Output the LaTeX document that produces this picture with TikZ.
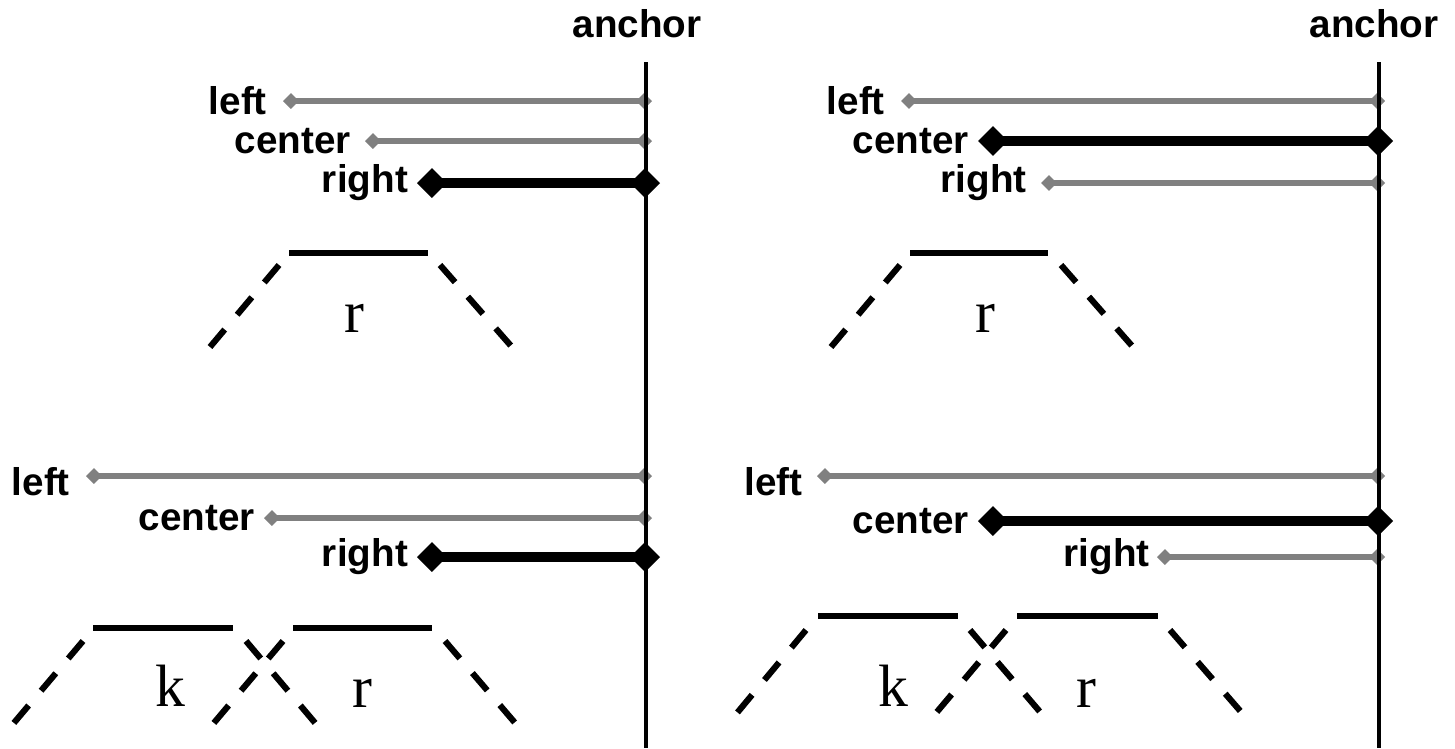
\documentclass[tikz,border=0pt]{standalone}
\usepackage{fontspec}
\setmainfont{Liberation Serif}
\newfontfamily\lblfont{Liberation Sans}
\usetikzlibrary{arrows.meta,positioning}
\definecolor{rowgray}{RGB}{128,128,128}
\tikzset{
  anchorline/.style={line width=2.4pt},
  grayrow/.style={line width=3pt,rowgray,{Diamond[length=9pt,width=9pt]}-{Diamond[length=9pt,width=9pt]}},
  blackrow/.style={line width=5.5pt,{Diamond[length=17pt,width=17pt]}-{Diamond[length=17pt,width=17pt]}},
  lbl/.style={font=\lblfont\bfseries\fontsize{22}{26}\selectfont,inner sep=0pt},
  top/.style={line width=3.5pt},
  leg/.style={line width=3.5pt,dash pattern=on 13pt off 11pt},
  letter/.style={font=\fontsize{34}{40}\selectfont,inner sep=0pt}
}
\begin{document}
\begin{tikzpicture}[x=0.02cm,y=-0.02cm]
\useasboundingbox (0,0) rectangle (1455,748);
% left panel
\node[lbl,anchor=base] (anchorL) at (637,37) {anchor};
\coordinate (aL1) at (646,62);
\coordinate (aL2) at (646,748);
\coordinate (sL1) at (283,101); \coordinate (eL1) at (652,101);
\coordinate (sL2) at (365,141); \coordinate (eL2) at (652,141);
\coordinate (sL3) at (417,183); \coordinate (eL3) at (660,183);
\coordinate (sL4) at (86,476);  \coordinate (eL4) at (652,476);
\coordinate (sL5) at (264,518); \coordinate (eL5) at (652,518);
\coordinate (sL6) at (417,557); \coordinate (eL6) at (660,557);
\draw[grayrow] (sL1) -- (eL1);
\draw[grayrow] (sL2) -- (eL2);
\draw[grayrow] (sL4) -- (eL4);
\draw[grayrow] (sL5) -- (eL5);
\draw[anchorline] (aL1) -- (aL2);
\draw[blackrow] (sL3) -- (eL3);
\draw[blackrow] (sL6) -- (eL6);
\node[lbl,left=9pt of sL1] (tL1) {left};
\node[lbl,left=8pt of sL2] (tL2) {center};
\node[lbl,left=5pt of sL3] (tL3) {right};
\node[lbl,left=9pt of sL4,yshift=-3pt] (tL4) {left};
\node[lbl,left=5pt of sL5] (tL5) {center};
\node[lbl,left=5pt of sL6] (tL6) {right};
\draw[top] (289,253) -- (428,253);
\draw[leg] (279,265) -- (210,347);
\draw[leg] (440,265) -- (512,347);
\node[letter] (rL1) at (354,318) {r};
\draw[top] (93,628) -- (233,628);
\draw[leg] (83,641) -- (13,724);
\draw[leg] (246,641) -- (316,724);
\draw[top] (293,628) -- (432,628);
\draw[leg] (283,641) -- (213,724);
\draw[leg] (445,641) -- (516,724);
\node[letter] (kL2) at (170,686) {k};
\node[letter] (rL2) at (362,693) {r};
% right panel
\node[lbl,anchor=base] (anchorR) at (1374,37) {anchor};
\coordinate (aR1) at (1379,62);
\coordinate (aR2) at (1379,748);
\coordinate (sR1) at (901,101);  \coordinate (eR1) at (1385,101);
\coordinate (sR2) at (978,141);  \coordinate (eR2) at (1393,141);
\coordinate (sR3) at (1041,183); \coordinate (eR3) at (1385,183);
\coordinate (sR4) at (817,476);  \coordinate (eR4) at (1385,476);
\coordinate (sR5) at (978,521);  \coordinate (eR5) at (1393,521);
\coordinate (sR6) at (1157,557); \coordinate (eR6) at (1385,557);
\draw[grayrow] (sR1) -- (eR1);
\draw[grayrow] (sR3) -- (eR3);
\draw[grayrow] (sR4) -- (eR4);
\draw[grayrow] (sR6) -- (eR6);
\draw[anchorline] (aR1) -- (aR2);
\draw[blackrow] (sR2) -- (eR2);
\draw[blackrow] (sR5) -- (eR5);
\node[lbl,left=9pt of sR1] (tR1) {left};
\node[lbl,left=5pt of sR2] (tR2) {center};
\node[lbl,left=8pt of sR3] (tR3) {right};
\node[lbl,left=8pt of sR4,yshift=-3pt] (tR4) {left};
\node[lbl,left=5pt of sR5] (tR5) {center};
\node[lbl,left=4pt of sR6] (tR6) {right};
\draw[top] (910,253) -- (1048,253);
\draw[leg] (900,265) -- (831,347);
\draw[leg] (1061,265) -- (1133,347);
\node[letter] (rR1) at (985,318) {r};
\draw[top] (818,616) -- (958,616);
\draw[leg] (806,630) -- (737,713);
\draw[leg] (970,630) -- (1041,713);
\draw[top] (1017,616) -- (1158,616);
\draw[leg] (1006,630) -- (936,713);
\draw[leg] (1170,630) -- (1242,713);
\node[letter] (kR2) at (893,686) {k};
\node[letter] (rR2) at (1086,693) {r};
\end{tikzpicture}
\end{document}
